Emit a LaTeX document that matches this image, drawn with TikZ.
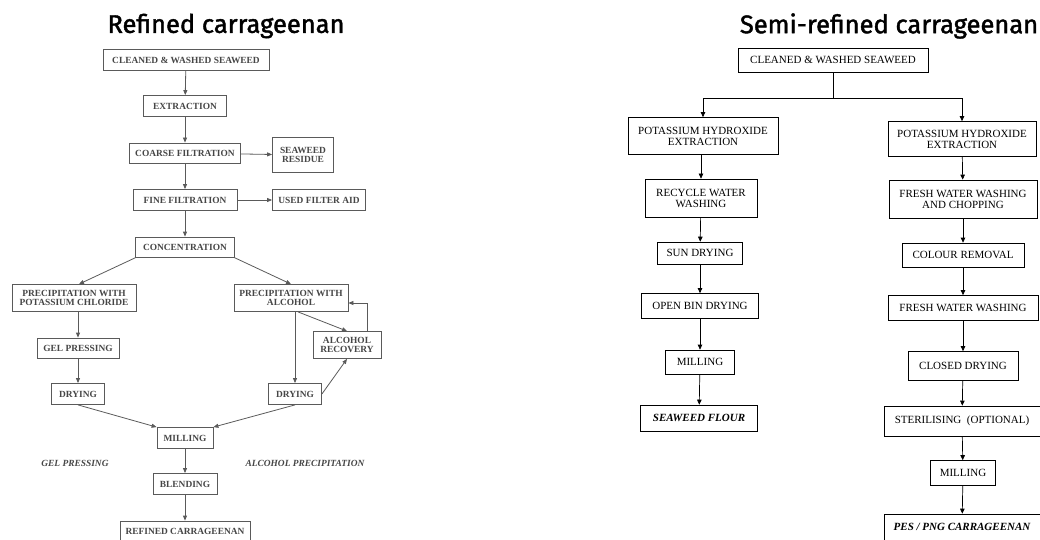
\documentclass[tikz,border=0pt]{standalone}
\usepackage{fontspec}
\setmainfont{Liberation Serif}
\newfontfamily\titlefont[FakeBold=1.6]{Fira Sans}
\usepackage{tikz}
\usetikzlibrary{calc,positioning,arrows.meta}
\usepackage{xcolor}
\definecolor{scangray}{RGB}{70,70,70}
\definecolor{linegray}{RGB}{90,90,90}

\tikzset{
  lbox/.style={draw=linegray, line width=0.8pt, inner sep=0pt, align=center,
    text=scangray, font=\bfseries\fontsize{9.4}{9.4}\selectfont},
  rbox/.style={draw, line width=0.7pt, inner sep=0pt, align=center,
    font=\fontsize{11}{11}\selectfont},
  larr/.style={draw=linegray, line width=0.8pt, -{Triangle[length=5pt,width=4pt]}},
  rarr/.style={draw, line width=0.7pt, -{Triangle[length=5pt,width=4.5pt]}},
  title/.style={font=\titlefont\fontsize{25.5}{28}\selectfont}
}

\begin{document}
\begin{tikzpicture}[x=1pt, y=-1pt]
  \useasboundingbox (0,0) rectangle (1040,540);

  % Titles
  \node[title] (ltitle) at (226,26) {Refined carrageenan};
  \node[title] (rtitle) at (889,26) {Semi-refined carrageenan};

  % Refined carrageenan
  \node[lbox, minimum width=166, minimum height=21] (lclean) at (186,60) {CLEANED \& WASHED SEAWEED};
  \node[lbox, minimum width=83, minimum height=21] (lext) at (185,106) {EXTRACTION};
  \node[lbox, minimum width=111, minimum height=20] (lcoarse) at (185,153) {COARSE FILTRATION};
  \node[lbox, minimum width=61, minimum height=35] (lres) at (303,155) {SEAWEED\\RESIDUE};
  \node[lbox, minimum width=104, minimum height=21] (lfine) at (185,200) {FINE FILTRATION};
  \node[lbox, minimum width=93, minimum height=21] (lused) at (319,200) {USED FILTER AID};
  \node[lbox, minimum width=99, minimum height=20] (lconc) at (185,247) {CONCENTRATION};
  \node[lbox, minimum width=124, minimum height=27] (lkcl) at (74,298) {PRECIPITATION WITH\\POTASSIUM CHLORIDE};
  \node[lbox, minimum width=114, minimum height=27] (lalc) at (291,298) {PRECIPITATION WITH\\ALCOHOL};
  \node[lbox, minimum width=68, minimum height=27] (lrec) at (347,345) {ALCOHOL\\RECOVERY};
  \node[lbox, minimum width=82, minimum height=20] (lgel) at (78,348) {GEL PRESSING};
  \node[lbox, minimum width=53, minimum height=21] (ldryA) at (78,394) {DRYING};
  \node[lbox, minimum width=53, minimum height=21] (ldryB) at (295,394) {DRYING};
  \node[lbox, minimum width=56, minimum height=21] (lmill) at (185,438) {MILLING};
  \node[lbox, minimum width=64, minimum height=21] (lblend) at (185,484) {BLENDING};
  \node[lbox, minimum width=130, minimum height=20] (lrefined) at (185,531) {REFINED CARRAGEENAN};
  \node[text=scangray, font=\bfseries\itshape\fontsize{9.4}{9.4}\selectfont] (lgellab) at (75,463) {GEL PRESSING};
  \node[text=scangray, font=\bfseries\itshape\fontsize{9.4}{9.4}\selectfont] (lalclab) at (305,463) {ALCOHOL PRECIPITATION};

  \draw[larr] (lclean) -- (lext);
  \draw[larr] (lext) -- (lcoarse);
  \draw[larr] (lcoarse) -- (lfine);
  \draw[larr] (lfine) -- (lconc);
  \draw[larr] (lcoarse) -- (lres);
  \draw[larr] (lfine) -- (lused);
  % Branches
  \draw[larr] (lconc.192) -- ($(lkcl.north)+(5,0)$);
  \draw[larr] (lconc.348) -- (lalc.north);
  \draw[larr] (lkcl.south -| lgel) -- (lgel);
  \draw[larr] (lgel) -- (ldryA);
  \draw[larr] (lalc.south -| ldryB) -- (ldryB);
  \draw[larr] ($(lalc.south)+(7,0)$) -- (lrec.north);
  \draw[larr] (ldryB.east) -- (lrec.south);
  \draw[larr] ($(lrec.north east)+(-14,0)$) |- ($(lalc.east)+(0,5)$);
  \draw[larr] (ldryA.south) -- (lmill.north west);
  \draw[larr] (ldryB.south) -- (lmill.north east);
  \draw[larr] (lmill) -- (lblend);
  \draw[larr] (lblend) -- (lrefined);

  % Semi-refined carrageenan
  \node[rbox, minimum width=190, minimum height=24] (rclean) at (833,60) {CLEANED \& WASHED SEAWEED};
  \coordinate (rsplit) at (833,98);
  \node[rbox, minimum width=150, minimum height=37] (rkohA) at (703,136) {POTASSIUM HYDROXIDE\\EXTRACTION};
  \node[rbox, minimum width=112, minimum height=38] (rrecyc) at (701,198) {RECYCLE WATER\\WASHING};
  \node[rbox, minimum width=85, minimum height=22] (rsun) at (700,253) {SUN DRYING};
  \node[rbox, minimum width=117, minimum height=25] (ropen) at (700,306) {OPEN BIN DRYING};
  \node[rbox, minimum width=69, minimum height=24] (rmillA) at (700,362) {MILLING};
  \node[rbox, minimum width=117, minimum height=26, font=\bfseries\itshape\fontsize{11}{11}\selectfont] (rflour) at (699,418) {SEAWEED FLOUR};

  \node[rbox, minimum width=148, minimum height=35] (rkohB) at (962,139) {POTASSIUM HYDROXIDE\\EXTRACTION};
  \node[rbox, minimum width=148, minimum height=38] (rfresh) at (963,199) {FRESH WATER WASHING\\AND CHOPPING};
  \node[rbox, minimum width=122, minimum height=24] (rcolour) at (963,255) {COLOUR REMOVAL};
  \node[rbox, minimum width=150, minimum height=25] (rwash) at (963,308) {FRESH WATER WASHING};
  \node[rbox, minimum width=110, minimum height=29] (rclosed) at (963,366) {CLOSED DRYING};
  \node[rbox, minimum width=156, minimum height=30] (rster) at (962,421) {STERILISING~~(OPTIONAL)};
  \node[rbox, minimum width=65, minimum height=25] (rmillB) at (963,473) {MILLING};
  \node[rbox, minimum width=156, minimum height=26, font=\bfseries\itshape\fontsize{11}{11}\selectfont] (rpes) at (962,527) {PES / PNG CARRAGEENAN};

  \draw[line width=0.7pt] (rclean) -- (rsplit);
  \draw[rarr] (rsplit) -| (rkohA);
  \draw[rarr] (rsplit) -| (rkohB);
  % Left column
  \draw[rarr] (rkohA.south -| rrecyc) -- (rrecyc);
  \draw[rarr] (rrecyc) -- (rsun);
  \draw[rarr] (rsun) -- (ropen);
  \draw[rarr] (ropen) -- (rmillA);
  \draw[rarr] (rmillA) -- (rflour);
  % Right column
  \draw[rarr] (rkohB) -- (rfresh);
  \draw[rarr] (rfresh) -- (rcolour);
  \draw[rarr] (rcolour) -- (rwash);
  \draw[rarr] (rwash) -- (rclosed);
  \draw[rarr] (rclosed) -- (rster);
  \draw[rarr] (rster) -- (rmillB);
  \draw[rarr] (rmillB) -- (rpes);
\end{tikzpicture}
\end{document}
